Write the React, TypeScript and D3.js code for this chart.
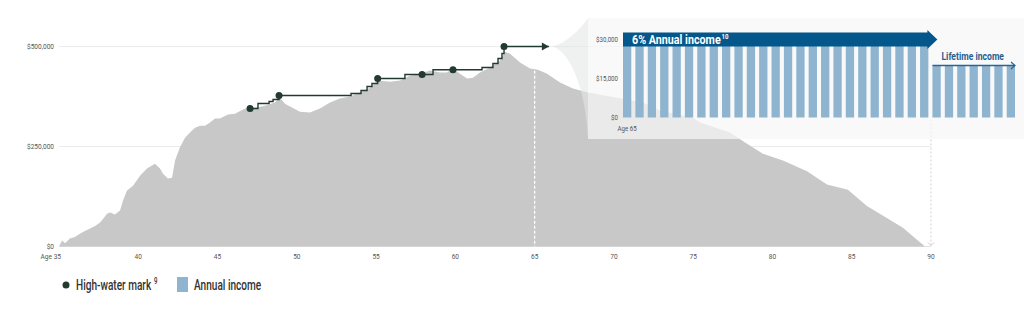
import React from 'react';
import * as d3 from 'd3';

// Account value (accumulation + drawdown)
const wealthAges = [35, 35.19, 35.38, 35.69, 36.0, 36.32, 36.6, 36.96, 37.3, 37.59, 37.8, 38.03, 38.22, 38.53, 38.85, 39.04, 39.29, 39.67, 40.11, 40.55, 41.05, 41.37, 41.56, 41.87, 42.13, 42.32, 42.63, 42.95, 43.26, 43.58, 43.89, 44.21, 44.52, 44.84, 45.15, 45.66, 46.1, 46.73, 47.36, 47.99, 48.62, 48.94, 49.25, 49.57, 50.2, 50.83, 51.46, 52.09, 52.72, 53.35, 53.98, 54.62, 55.12, 55.88, 56.51, 57.14, 57.77, 58.4, 59.03, 59.47, 59.85, 60.29, 60.73, 61.11, 61.55, 62.18, 62.81, 63.13, 63.45, 64.08, 64.71, 65.21, 65.78, 66.6, 67.42, 68.37, 71.83, 72.91, 74.99, 75.43, 77.32, 78.27, 79.4, 80.66, 82.18, 83.44, 84.76, 85.96, 88.23, 89.62];
const wealthValues = [0, 15000, 8000, 20000, 24000, 32000, 38000, 45000, 52000, 60000, 70000, 82000, 85000, 80000, 90000, 115000, 140000, 152000, 177000, 195000, 207000, 195000, 182000, 170000, 172000, 215000, 248000, 272000, 285000, 297000, 302000, 302000, 310000, 320000, 320000, 330000, 332000, 345000, 347000, 352000, 360000, 372000, 357000, 350000, 337000, 335000, 345000, 360000, 370000, 375000, 385000, 397000, 415000, 412000, 415000, 427000, 432000, 440000, 435000, 435000, 445000, 432000, 420000, 422000, 435000, 447000, 465000, 487000, 482000, 460000, 445000, 442000, 432000, 410000, 395000, 385000, 360000, 340000, 322000, 310000, 285000, 260000, 232000, 215000, 188000, 155000, 142000, 101000, 47000, 0];

// High-water mark staircase
const hwmAges = [47.05, 47.55, 48.25, 48.5, 48.88, 53.42, 54.05, 54.43, 54.74, 55.1, 56.82, 58.59, 61.68, 62.37, 62.69, 62.94, 63.07, 65.9];
const hwmValues = [345000, 357500, 362500, 367500, 377500, 382500, 390000, 400000, 407500, 420000, 430000, 442000, 447500, 457500, 470000, 482500, 500000, 500000];
const markAges = [47.05, 48.88, 55.1, 57.9, 59.85, 63.07];
const markValues = [345000, 377500, 420000, 430000, 442000, 500000];

// Annual income inset
const incomeAges = [65, 66, 67, 68, 69, 70, 71, 72, 73, 74, 75, 76, 77, 78, 79, 80, 81, 82, 83, 84, 85, 86, 87, 88, 89, 90, 91, 92, 93, 94, 95, 96];
const incomeValues = [30000, 30000, 30000, 30000, 30000, 30000, 30000, 30000, 30000, 30000, 30000, 30000, 30000, 30000, 30000, 30000, 30000, 30000, 30000, 30000, 30000, 30000, 30000, 30000, 30000, 20000, 20000, 20000, 20000, 20000, 20000, 20000];

const xTicks = [35, 40, 45, 50, 55, 60, 65, 70, 75, 80, 85, 90];
const xTickLabels = ['Age 35', '40', '45', '50', '55', '60', '65', '70', '75', '80', '85', '90'];
const yTicks = [0, 250000, 500000];
const yTickLabels = ['$0', '$250,000', '$500,000'];
const innerYTicks = [0, 15000, 30000];
const innerYTickLabels = ['$0', '$15,000', '$30,000'];

const FONT = '"Roboto", "Liberation Sans", sans-serif';
const AREA = '#c8c8c8';
const DARK = '#223a30';
const BAR = '#8fb4cf';
const NAVY = '#03578a';
const LABEL = '#555';

function T(props: {
  x: number;
  y: number;
  anchor?: 'start' | 'middle' | 'end';
  size: number;
  fill: string;
  weight?: number;
  sq?: number;
  children: React.ReactNode;
}) {
  return (
    <text
      transform={`translate(${props.x},${props.y}) scale(${props.sq ?? 0.82},1)`}
      textAnchor={props.anchor || 'start'}
      fontSize={props.size}
      fontWeight={props.weight || 400}
      fill={props.fill}
    >
      {props.children}
    </text>
  );
}

export default function App() {
  const x = d3.scaleLinear().domain([35, 90]).range([59, 931]);
  const y = d3.scaleLinear().domain([0, 500000]).range([246.5, 46.5]);

  const area = d3
    .area<number>()
    .x((_, i) => x(wealthAges[i]))
    .y0(y(0))
    .y1((d) => y(d))
    .curve(d3.curveLinear)(wealthValues) as string;

  const hwmLine = d3
    .line<number>()
    .x((_, i) => x(hwmAges[i]))
    .y((d) => y(d))
    .curve(d3.curveStepAfter)(hwmValues) as string;

  const xi = d3
    .scaleBand<number>()
    .domain(incomeAges)
    .range([623, 1015])
    .paddingInner(0.33)
    .paddingOuter(0);
  const yi = d3.scaleLinear().domain([0, 30000]).range([117.5, 39.5]);
  const bw = xi.bandwidth();

  const arrowEnd = x(hwmAges[hwmAges.length - 1]);
  const arrowY = y(hwmValues[hwmValues.length - 1]);

  const bandY = yi(30000);
  const bandStart = xi(65)!;
  const bandEnd = xi(89)! + bw;
  const lifeStart = xi(90)!;
  const lifeEnd = xi(96)! + bw;
  const lifeY = yi(20000);

  const x65 = x(65);
  const v65 = 442000;
  const x90 = x(90);

  return (
    <svg
      width={1024}
      height={312}
      style={{ position: 'absolute', left: 0, top: 0, background: '#fff' }}
      fontFamily={FONT}
    >
      {/* gridlines */}
      {yTicks.map((t) => (
        <line key={t} x1={x(35)} x2={x90} y1={y(t)} y2={y(t)} stroke={t === 0 ? '#e2e2e2' : '#ececec'} strokeWidth={1} />
      ))}
      {/* area */}
      <path d={area} fill={AREA} />
      {/* dashed line at 65 */}
      <line x1={x65} x2={x65} y1={y(v65) + 1} y2={y(0)} stroke="#fff" strokeWidth={1.3} strokeDasharray="3,2" />
      {/* dashed line at 90 */}
      <line x1={x90} x2={x90} y1={yi(0) + 2} y2={y(0) - 1} stroke="#d2d2d2" strokeWidth={1} strokeDasharray="2,2" />
      <path d={`M${x90 - 3},${y(0) - 4} L${x90},${y(0) - 1} L${x90 + 3},${y(0) - 4}`} fill="none" stroke="#d2d2d2" strokeWidth={1} />

      {/* y labels */}
      {yTicks.map((t, i) => (
        <T key={t} x={54} y={y(t) + 2.5} anchor="end" size={8} fill={LABEL}>
          {yTickLabels[i]}
        </T>
      ))}
      {/* x labels */}
      {xTicks.map((t, i) => (
        <T key={t} x={i === 0 ? x(t) + 2 : x(t)} y={259} anchor={i === 0 ? 'end' : 'middle'} size={8} fill={LABEL}>
          {xTickLabels[i]}
        </T>
      ))}

      {/* high-water mark */}
      <path d={hwmLine} fill="none" stroke={DARK} strokeWidth={1.4} />
      <path d={`M${arrowEnd - 7},${arrowY - 4} L${arrowEnd},${arrowY} L${arrowEnd - 7},${arrowY + 4} Z`} fill={DARK} />
      {markAges.map((a, i) => (
        <circle key={a} cx={x(a)} cy={y(markValues[i])} r={3.5} fill={DARK} />
      ))}

      {/* funnel */}
      <path
        d={`M${arrowEnd + 3},${arrowY} C565,44 580,30 588,18 L588,139 C586,90 570,50 ${arrowEnd + 3},${arrowY} Z`}
        fill="#e4e6e6"
        fillOpacity={0.6}
      />
      {/* inset panel */}
      <rect x={588} y={18} width={436} height={121} fill="#f6f6f6" fillOpacity={0.72} />

      {/* inset y labels */}
      {innerYTicks.map((t, i) => (
        <T key={t} x={618} y={yi(t) + 2.5} anchor="end" size={7.5} fill={LABEL}>
          {innerYTickLabels[i]}
        </T>
      ))}
      <T x={xi(65)! + bw / 2} y={131} anchor="middle" size={7.5} fill={LABEL}>
        Age 65
      </T>

      {/* bars */}
      {incomeAges.map((a, i) => (
        <rect key={a} x={xi(a)!} y={yi(incomeValues[i])} width={bw} height={yi(0) - yi(incomeValues[i])} fill={BAR} />
      ))}

      {/* 6% band arrow */}
      <rect x={bandStart} y={bandY - 7} width={bandEnd - bandStart} height={14} fill={NAVY} />
      <path d={`M${bandEnd - 1},${bandY - 9.5} L${bandEnd + 9},${bandY} L${bandEnd - 1},${bandY + 9.5} Z`} fill={NAVY} />
      <T x={632} y={bandY + 4.5} size={12.5} weight={700} sq={0.86} fill="#fff">
        6% Annual income
        <tspan fontSize={7} dy={-5} dx={1}>10</tspan>
      </T>

      {/* lifetime income */}
      <T x={(lifeStart + lifeEnd) / 2 - 1} y={lifeY - 6} anchor="middle" size={10.5} weight={700} fill="#2a5f8e">
        Lifetime income
      </T>
      <line x1={lifeStart} x2={lifeEnd} y1={lifeY} y2={lifeY} stroke="#2a6496" strokeWidth={1.3} />
      <path d={`M${lifeEnd - 4},${lifeY - 3.5} L${lifeEnd},${lifeY} L${lifeEnd - 4},${lifeY + 3.5}`} fill="none" stroke="#2a6496" strokeWidth={1.2} />

      {/* legend */}
      <circle cx={66} cy={285} r={3.5} fill={DARK} />
      <T x={76} y={290} size={14} sq={0.72} weight={500} fill="#333">
        High-water mark
        <tspan fontSize={8.5} dy={-6} dx={4}>9</tspan>
      </T>
      <rect x={177} y={277} width={11} height={15} fill={BAR} />
      <T x={194} y={290} size={14} sq={0.72} weight={500} fill="#333">
        Annual income
      </T>
    </svg>
  );
}
